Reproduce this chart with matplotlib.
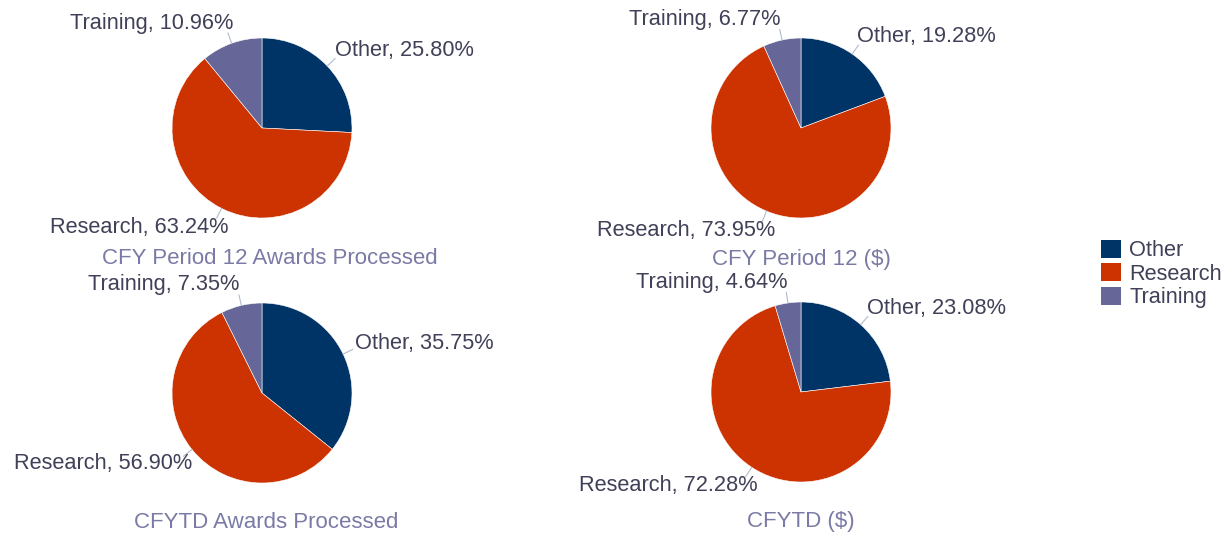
import matplotlib
matplotlib.use("Agg")
import matplotlib.pyplot as plt
import numpy as np
from matplotlib.patches import Patch

plt.rcParams['font.family'] = ['Liberation Sans', 'DejaVu Sans']

# data
categories = ["Other", "Research", "Training"]
colors = ["#003366", "#cc3300", "#666699"]
titles = ["CFY Period 12 Awards Processed", "CFY Period 12 ($)",
          "CFYTD Awards Processed", "CFYTD ($)"]
awards_p12 = [25.80, 63.24, 10.96]
dollars_p12 = [19.28, 73.95, 6.77]
awards_ytd = [35.75, 56.90, 7.35]
dollars_ytd = [23.08, 72.28, 4.64]
all_values = [awards_p12, dollars_p12, awards_ytd, dollars_ytd]

W, H = 1222, 538
fig = plt.figure(figsize=(W / 100, H / 100), dpi=100)

# pie centres and title positions in pixels
centers = [(262, 128), (801, 128), (262, 393), (801, 392)]
title_pos = [(270, 259), (801, 259), (266, 522), (801, 522)]
R = 90
box = 300
label_color = "#404058"
title_color = "#7a7aa6"
line_color = "#b0bccc"

for vals, title, (cx, cy), (tx, ty) in zip(all_values, titles, centers, title_pos):
    ax = fig.add_axes([(cx - box / 2) / W, 1 - (cy + box / 2) / H, box / W, box / H])
    lim = box / 2 / R
    wedges, _ = ax.pie(vals, colors=colors, startangle=90, counterclock=False,
                       wedgeprops=dict(edgecolor="white", linewidth=0.4))
    ax.set_xlim(-lim, lim)
    ax.set_ylim(-lim, lim)
    ax.set_aspect("equal")
    ax.axis("off")
    for w, cat, v in zip(wedges, categories, vals):
        ang = np.deg2rad((w.theta1 + w.theta2) / 2)
        dx, dy = np.cos(ang), np.sin(ang)
        ax.plot([dx, dx * 1.12], [dy, dy * 1.12], color=line_color, lw=0.8)
        shift = 0.70 if dx >= 0 else -0.81
        ax.text(dx * 1.22 + shift, dy * 1.2 + np.sign(dy) * 0.033, f"{cat}, {v:.2f}%",
                fontsize=15.7, color=label_color, ha="center", va="center")
    fig.text(tx / W, 1 - ty / H, title, fontsize=16, color=title_color,
             ha="center", va="center")

handles = [Patch(facecolor=c, edgecolor="none") for c in colors]
fig.legend(handles, categories, loc="center left", bbox_to_anchor=(1090 / W, 1 - 274 / H),
           frameon=False, fontsize=15.7, labelcolor=label_color, handlelength=0.9,
           handleheight=0.9, handletextpad=0.4, labelspacing=0.08, borderpad=0)

fig.savefig("out.png", dpi=100)
